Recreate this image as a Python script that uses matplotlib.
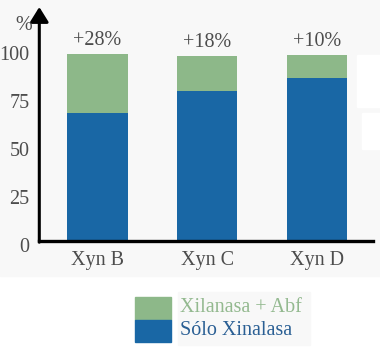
import matplotlib
matplotlib.use('Agg')
import numpy as np
from matplotlib import pyplot as plt
from matplotlib.patches import Rectangle
from matplotlib.transforms import ScaledTranslation

categories = ['Xyn B', 'Xyn C', 'Xyn D']
solo_xinalasa = [66.5, 78, 85]
con_abf = [31, 18.5, 12]
increase_labels = ['+28%', '+18%', '+10%']
yticks = [0, 25, 50, 75, 100]
legend_labels = ['Xilanasa + Abf', 'Sólo Xinalasa']

blue = '#1967a5'
green = '#8db889'
txt = '#4d4d4d'
W, H = 380, 352

plt.rcParams['font.family'] = ['Liberation Serif', 'DejaVu Serif']

fig = plt.figure(figsize=(W / 100, H / 100), dpi=100)
fig.patch.set_facecolor('white')
# light grey panel behind the chart
fig.patches.append(Rectangle((0, 1 - 276 / H), 1, 276 / H, transform=fig.transFigure,
                             color='#f8f8f8', zorder=-10))
# white patches at the right edge (scan artefacts)
fig.patches.append(Rectangle((357 / W, 1 - 107 / H), 1, 52 / H, transform=fig.transFigure,
                             color='white', zorder=-9))
fig.patches.append(Rectangle((362 / W, 1 - 149 / H), 1, 36 / H, transform=fig.transFigure,
                             color='white', zorder=-9))

x0, x1 = 39.3, 373
ytop, ybot = 7, 241
ax = fig.add_axes([x0 / W, 1 - ybot / H, (x1 - x0) / W, (ybot - ytop) / H])
ax.set_facecolor('none')

x = np.arange(len(categories))
ax.bar(x, solo_xinalasa, width=0.55, color=blue)
ax.bar(x, con_abf, width=0.55, bottom=solo_xinalasa, color=green)

ax.set_xlim(-0.531, 2.514)
ax.set_ylim(0, (ybot - ytop) / 1.92)

for xi, b, g, lab in zip(x, solo_xinalasa, con_abf, increase_labels):
    ax.text(xi, b + g + 7, lab, ha='center', va='center', fontsize=14.5, color=txt)

ax.set_xticks(x)
ax.set_xticklabels(categories, fontsize=14.5, color=txt)
ax.set_yticks(yticks)
ax.set_yticklabels([str(t) for t in yticks], fontsize=14.5, color=txt)
ax.tick_params(length=0, pad=7)
ax.tick_params(axis='x', pad=7)
shift = ScaledTranslation(0, -4 / 100, fig.dpi_scale_trans)
for lab in ax.get_yticklabels():
    lab.set_transform(lab.get_transform() + shift)

for s in ax.spines.values():
    s.set_visible(False)
ax.axhline(0, color='black', lw=2.4, clip_on=False)
ax.annotate('', xy=(0, 1), xytext=(0, -0.005), xycoords='axes fraction',
            arrowprops=dict(arrowstyle='-|>,head_length=0.45,head_width=0.28',
                            lw=2.2, color='black', mutation_scale=20, shrinkA=0, shrinkB=0))

fig.text(24 / W, 1 - 26 / H, '%', ha='center', va='center', fontsize=14.5, color=txt)

# legend
fig.patches.append(Rectangle((178 / W, 1 - 345 / H), 132 / W, 53 / H, transform=fig.transFigure,
                             color='#f8f8f8', zorder=-5))
for i, (lab, c, tc) in enumerate(zip(legend_labels, [green, blue], ['#93b98f', '#2a5f94'])):
    top = 297 + i * 22.5
    fig.patches.append(Rectangle((135 / W, 1 - (top + 22.5) / H), 36 / W, 22.5 / H,
                                 transform=fig.transFigure, color=c))
    fig.text(180 / W, 1 - (top + 11) / H, lab, ha='left', va='center', fontsize=14.5, color=tc)

fig.savefig('out.png', dpi=100, facecolor=fig.get_facecolor())
